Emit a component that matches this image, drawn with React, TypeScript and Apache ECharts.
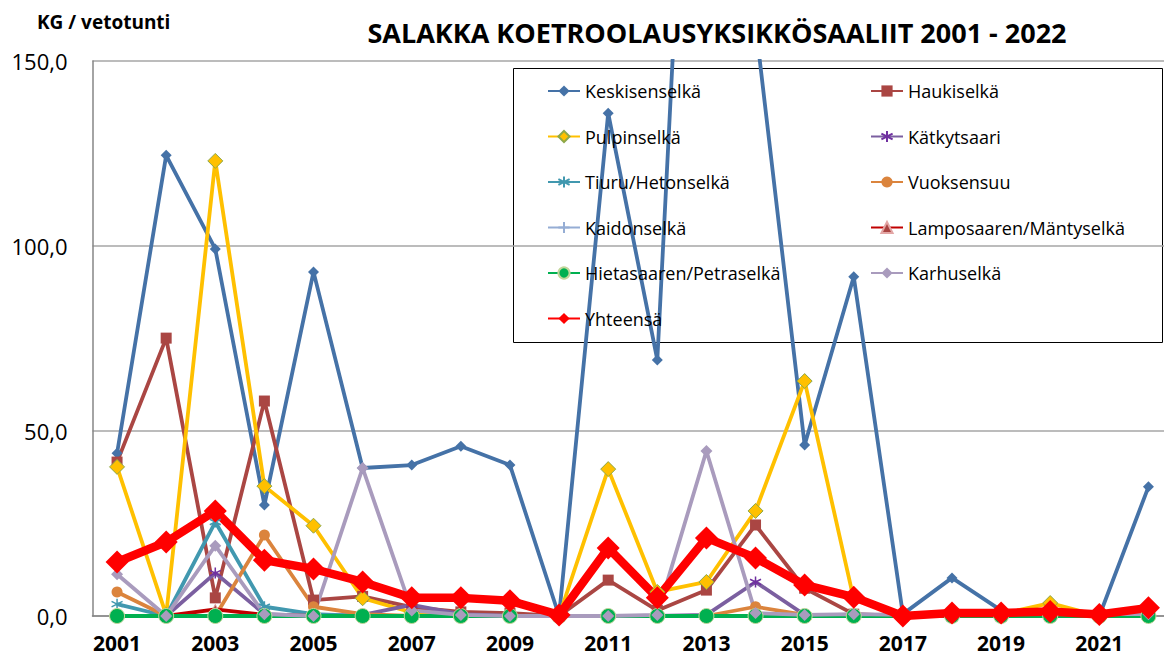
import React, { useEffect, useRef } from "react";
import * as echarts from "echarts";

const years = ["2001","2002","2003","2004","2005","2006","2007","2008","2009","2010","2011","2012","2013","2014","2015","2016","2017","2018","2019","2020","2021","2022"];

const keskisenselka = [44, 124.5, 99.2, 30, 93, 40, 40.8, 45.9, 40.8, 0, 135.9, 69.2, 330, 160, 46.2, 91.7, 0.5, 10.3, 1.5, 0.5, 0, 34.9];
const haukiselka = [41.6, 75.1, 4.9, 58.1, 4.3, 5.3, 2.4, 1.1, 0.8, 0, 9.7, 1.5, 7.0, 24.6, 7.5, 0.5, 0, 0, 0, 0, 0, 0];
const pulpinselka = [40.3, 0.3, 123, 35.1, 24.4, 4.8, 1.0, 0, 0, 0, 39.7, 6.5, 9.2, 28.4, 63.5, 4.5, 0, 0, 0.5, 3.5, 0, 0];
const katkytsaari = [0, 0, 11.6, 0.5, 0, 0.3, 3.0, 0.5, 0, 0, 0, 0, 0.3, 9.2, 0.3, 0, 0, 0, 0, 0, 0, 0];
const tiuru = [3.2, 0, 25.4, 2.5, 0.5, 0, 0, 0, 0, 0, 0, 0, 0, 0, 0, 0, 0, 0, 0, 0, 0, 0];
const vuoksensuu = [6.5, 0, 0, 21.9, 2.5, 0.5, 0, 0, 0, 0, 0, 0, 0, 2.5, 0.3, 0, 0, 0, 0, 0, 0, 0];
const kaidonselka = [0, 0, 0, 0, 0, 0, 0, 0, 0, 0, 0, 0, 0, 0, 0, 0, 0, 0, 0, 0, 0, 0];
const lamposaaren = [0, 0, 1.8, 0.3, 0, 0, 0, 0, 0, 0, 0, 0, 0, 0, 0, 0, 0, 0, 0, 0, 0, 0];
const hietasaaren = [0, 0, 0, 0, 0, 0, 0, 0, 0, 0, 0, 0, 0, 0, 0, 0, 0, 0, 0, 0, 0, 0];
const karhuselka = [11.3, 0, 19.0, 0.5, 0, 40, 1.5, 0.3, 0, 0, 0, 0.3, 44.6, 0.8, 0.3, 0.5, 0.3, 0.3, 1, 0.5, 0.5, 0.5];
const yhteensa = [14.6, 20.0, 28.4, 15.1, 12.7, 9.2, 4.9, 4.9, 4.1, 0.3, 18.4, 4.9, 21.1, 15.7, 8.4, 5.1, 0, 0.8, 0.8, 1.2, 0.4, 2.2];

const yTicks = [0, 50, 100, 150];

const STAR = "path://M0,-10L0,10M-8.66,-5L8.66,5M-8.66,5L8.66,-5";
const PLUS = "path://M0,-10L0,10M-10,0L10,0";

const FONT = "'Open Sans', 'Noto Sans', sans-serif";

function mk(name: string, data: number[], color: string, symbol: string, size: number, opts: any = {}) {
  return {
    name,
    type: "line",
    data,
    symbol,
    symbolSize: size,
    lineStyle: { color, width: opts.width ?? 3.8 },
    itemStyle: {
      color: opts.fill ?? color,
      borderColor: opts.border ?? color,
      borderWidth: opts.borderWidth ?? 0,
    },
    emphasis: { disabled: true },
    clip: true,
  };
}

export default function App() {
  const ref = useRef<HTMLDivElement>(null);
  useEffect(() => {
    document.body.style.margin = "0";
    document.body.style.overflow = "hidden";
    const chart = echarts.init(ref.current!, null, { renderer: "svg" });
    const series = [
      mk("Keskisenselkä", keskisenselka, "#4572A7", "diamond", 11),
      mk("Haukiselkä", haukiselka, "#AA4643", "rect", 11),
      mk("Pulpinselkä", pulpinselka, "#FFC000", "diamond", 15, { border: "#8DA84A", borderWidth: 1 }),
      mk("Kätkytsaari", katkytsaari, "#7B5FA0", STAR, 11, { fill: "#7030A0", border: "#7030A0", borderWidth: 1.5 }),
      mk("Tiuru/Hetonselkä", tiuru, "#4198AF", STAR, 11, { border: "#4198AF", borderWidth: 1.5 }),
      mk("Vuoksensuu", vuoksensuu, "#DB843D", "circle", 11),
      mk("Kaidonselkä", kaidonselka, "#95ADD4", PLUS, 12, { border: "#95ADD4", borderWidth: 2 }),
      mk("Lamposaaren/Mäntyselkä", lamposaaren, "#C00000", "triangle", 10, { fill: "#A94442", border: "#E3A6A5", borderWidth: 1 }),
      mk("Hietasaaren/Petraselkä", hietasaaren, "#00B050", "circle", 15, { border: "#C3D69B", borderWidth: 1 }),
      mk("Karhuselkä", karhuselka, "#A99BBD", "diamond", 12),
      mk("Yhteensä", yhteensa, "#FF0000", "diamond", 23, { width: 8.5 }),
    ];
    const legendCommon = {
      orient: "vertical",
      itemWidth: 32,
      itemHeight: 14,
      itemGap: 25.5,
      padding: 0,
      selectedMode: false,
      textStyle: { fontFamily: FONT, fontSize: 18, color: "#000", lineHeight: 20 },
    };
    chart.setOption({
      animation: false,
      grid: { left: 92.5, top: 61, right: 0, bottom: 43, containLabel: false },
      xAxis: {
        type: "category",
        data: years,
        boundaryGap: true,
        axisLine: { show: true, lineStyle: { color: "#868686", width: 1.5 } },
        axisTick: { show: false },
        axisLabel: {
          interval: 1,
          fontFamily: FONT,
          fontWeight: "bold",
          fontSize: 21,
          color: "#000",
          margin: 16,
        },
        splitLine: { show: false },
      },
      yAxis: {
        type: "value",
        min: 0,
        max: 150,
        interval: 50,
        axisLine: { show: true, lineStyle: { color: "#868686", width: 1.5 } },
        axisTick: { show: false },
        axisLabel: {
          fontFamily: FONT,
          fontSize: 22,
          color: "#000",
          margin: 25,
          formatter: (v: number) => (yTicks.includes(v) ? v.toFixed(1).replace(".", ",") : ""),
        },
        splitLine: { show: true, lineStyle: { color: "#A6A6A6", width: 1.5 } },
      },
      legend: [
        {
          ...legendCommon,
          left: 547,
          top: 81,
          data: ["Keskisenselkä", "Pulpinselkä", "Tiuru/Hetonselkä", "Kaidonselkä", "Hietasaaren/Petraselkä", "Yhteensä"],
        },
        {
          ...legendCommon,
          left: 870,
          top: 81,
          data: ["Haukiselkä", "Kätkytsaari", "Vuoksensuu", "Lamposaaren/Mäntyselkä", "Karhuselkä"],
        },
      ],
      graphic: [
        {
          type: "rect",
          shape: { x: 513.5, y: 68.5, width: 649, height: 274 },
          style: { fill: "none", stroke: "#000", lineWidth: 1 },
          silent: true,
        },
        {
          type: "text",
          x: 717,
          y: 32,
          style: {
            text: "SALAKKA KOETROOLAUSYKSIKKÖSAALIIT 2001 - 2022",
            fill: "#000",
            font: `bold 27px ${FONT}`,
            textAlign: "center",
            textVerticalAlign: "middle",
          },
        },
        {
          type: "text",
          x: 37,
          y: 22,
          style: {
            text: "KG / vetotunti",
            fill: "#000",
            font: `bold 19px ${FONT}`,
            textAlign: "left",
            textVerticalAlign: "middle",
          },
        },
      ],
      series,
    });
    return () => chart.dispose();
  }, []);
  return <div ref={ref} style={{ width: 1173, height: 659, position: "absolute", left: 0, top: 0 }} />;
}
